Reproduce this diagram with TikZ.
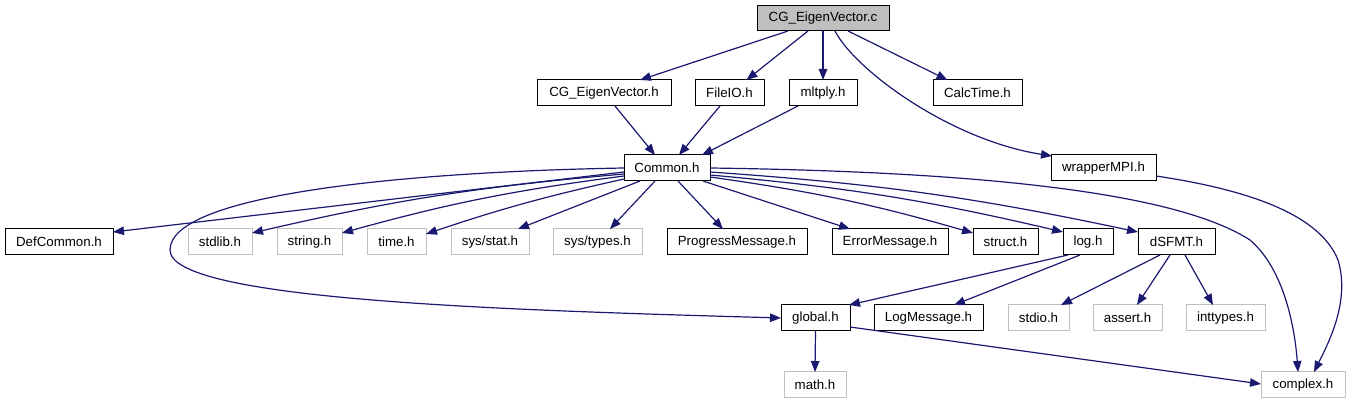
\documentclass[tikz,border=0pt]{standalone}
\usepackage{fontspec}
\setmainfont{Liberation Sans}
\usetikzlibrary{arrows.meta,calc}
\definecolor{edgeblue}{HTML}{191970}
\definecolor{lightgr}{HTML}{BFBFBF}
\begin{document}
\begin{tikzpicture}[x=1pt,y=-1pt,
 box/.style={draw=black,line width=1pt,inner sep=0pt,outer sep=0pt,minimum height=26pt,font=\fontsize{13.3}{15}\selectfont,text=black},
 gbox/.style={box,draw=lightgr},
 edge/.style={draw=edgeblue,line width=1.2pt,-{Triangle[length=11pt,width=8.5pt]}}]
\useasboundingbox (0,0) rectangle (1350,411);
% rows
\node[box,fill=lightgr,minimum width=132pt,minimum height=25pt] (top) at (823,18.5) {CG\_EigenVector.c};
\node[box,minimum width=134pt] (cgh) at (604,93) {CG\_EigenVector.h};
\node[box,minimum width=69pt] (fileio) at (729.5,93) {FileIO.h};
\node[box,minimum width=68pt] (mltply) at (823,93) {mltply.h};
\node[box,minimum width=89pt] (calctime) at (977.5,93) {CalcTime.h};
\node[box,minimum width=86pt] (common) at (667,168) {Common.h};
\node[box,minimum width=105pt] (wrapper) at (1103.5,168) {wrapperMPI.h};
\node[box,minimum width=108pt] (def) at (59,242) {DefCommon.h};
\node[gbox,minimum width=64pt] (stdlib) at (220,242) {stdlib.h};
\node[gbox,minimum width=65pt] (string) at (309.5,242) {string.h};
\node[gbox,minimum width=59pt] (time) at (396.5,242) {time.h};
\node[gbox,minimum width=78pt] (sysstat) at (490,242) {sys/stat.h};
\node[gbox,minimum width=89pt] (systypes) at (597.5,242) {sys/types.h};
\node[box,minimum width=140pt] (progress) at (737,242) {ProgressMessage.h};
\node[box,minimum width=116pt] (error) at (890,242) {ErrorMessage.h};
\node[box,minimum width=65pt] (struct) at (1005.5,242) {struct.h};
\node[box,minimum width=50pt] (log) at (1088,242) {log.h};
\node[box,minimum width=77pt] (dsfmt) at (1176.5,242) {dSFMT.h};
\node[box,minimum width=69pt] (global) at (815.5,318) {global.h};
\node[box,minimum width=109pt] (logmsg) at (928.5,318) {LogMessage.h};
\node[gbox,minimum width=61pt] (stdio) at (1038.5,318) {stdio.h};
\node[gbox,minimum width=69pt] (assert) at (1127.5,318) {assert.h};
\node[gbox,minimum width=79pt] (inttypes) at (1225.5,318) {inttypes.h};
\node[gbox,minimum width=62pt] (math) at (815,385) {math.h};
\node[gbox,minimum width=84pt] (cplx) at (1303,385) {complex.h};
% top edges
\draw[edge] ($(top.south)+(-35,0)$) -- ($(cgh.north)+(36,0)$);
\draw[edge] ($(top.south)+(-15,0)$) -- ($(fileio.north)+(17,0)$);
\draw[edge] (top.south) -- (mltply.north);
\draw[edge] ($(top.south)+(25,0)$) -- ($(calctime.north)+(-30,0)$);
\draw[edge] ($(top.south)+(12,0)$) .. controls (855,70) and (950,140) .. ($(wrapper.north west)+(1,1)$);
% row 2 to common
\draw[edge] ($(cgh.south)+(11,0)$) -- ($(common.north)+(-12,0)$);
\draw[edge] ($(fileio.south)+(-9.5,0)$) -- ($(common.north)+(12,0)$);
\draw[edge] ($(mltply.south)+(-25,0)$) -- ($(common.north)+(35,0)$);
% common to row 3
\draw[edge] ($(common.west)+(0,4)$) -- ($(def.north east)+(0,3)$);
\draw[edge] ($(common.west)+(0,6)$) to[bend right=4] ($(stdlib.north east)+(0,4)$);
\draw[edge] ($(common.west)+(0,8)$) to[bend right=4] ($(string.north east)+(0,4)$);
\draw[edge] ($(common.west)+(0,11)$) to[bend right=3] ($(time.north east)+(0,5)$);
\draw[edge] ($(common.south west)+(16,0)$) -- ($(sysstat.north)+(28,0)$);
\draw[edge] ($(common.south west)+(31,0)$) -- ($(systypes.north)+(12.5,0)$);
\draw[edge] ($(common.south west)+(54,0)$) -- ($(progress.north)+(-14,0)$);
\draw[edge] ($(common.south west)+(79,0)$) -- ($(error.north)+(-40,0)$);
\draw[edge] ($(common.east)+(0,9)$) to[bend left=4] ($(struct.north west)+(0,4)$);
\draw[edge] ($(common.east)+(0,7)$) to[bend left=4] ($(log.north west)+(0,3)$);
\draw[edge] ($(common.east)+(0,4)$) to[bend left=4] ($(dsfmt.north west)+(0,3)$);
% common loop to global
\draw[edge] (common.west) .. controls (400,172) and (170,195) .. (170,250) .. controls (170,300) and (500,310) .. (global.west);
% common to complex
\draw[edge] (common.east) .. controls (1000,172) and (1180,195) .. (1250,240) .. controls (1285,270) and (1295,330) .. ($(cplx.north)+(-5,0)$);
% wrapper to complex
\draw[edge] ($(wrapper.east)+(0,8)$) .. controls (1250,190) and (1320,215) .. (1338,260) .. controls (1350,300) and (1330,340) .. ($(cplx.north)+(11,0)$);
% log edges
\draw[edge] ($(log.south west)+(5,0)$) -- ($(global.north east)+(-1,0)$);
\draw[edge] ($(log.south west)+(17,0)$) -- ($(logmsg.north)+(25.5,0)$);
% dSFMT edges
\draw[edge] ($(dsfmt.south)+(-16.5,0)$) -- ($(stdio.north)+(22.5,0)$);
\draw[edge] ($(dsfmt.south)+(-6.5,0)$) -- ($(assert.north)+(9.5,0)$);
\draw[edge] ($(dsfmt.south)+(8.5,0)$) -- ($(inttypes.north)+(-12.5,0)$);
% global edges
\draw[edge] (global.south) -- (math.north);
\draw[edge] ($(global.south east)+(0,-4)$) -- ($(cplx.west)+(0,-1)$);
\end{tikzpicture}
\end{document}
